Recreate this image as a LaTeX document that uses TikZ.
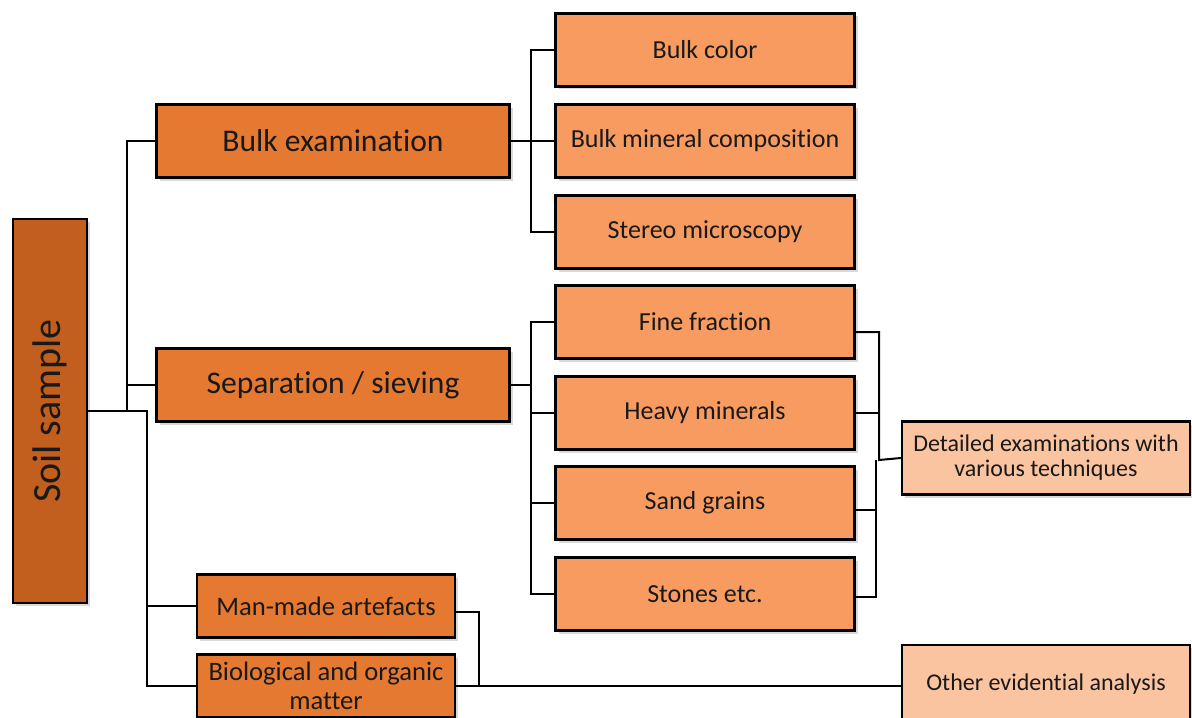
\documentclass[tikz,border=0pt]{standalone}
\usepackage{fontspec}
\setmainfont{Carlito}[Ligatures={NoCommon,NoContextual}, Contextuals=NoAlternate]
\usetikzlibrary{shadows}

\definecolor{soilbrown}{RGB}{194,94,30}
\definecolor{midorange}{RGB}{230,121,50}
\definecolor{lightorange}{RGB}{247,155,96}
\definecolor{paleorange}{RGB}{250,196,160}

\begin{document}
\begin{tikzpicture}[x=0.5pt,y=-0.5pt]
	\tikzstyle{box} = [draw=black, line width=1.2pt, inner sep=2pt, align=center, text=black!90,
		drop shadow={opacity=0.3, shadow xshift=1.5pt, shadow yshift=-1.5pt}]
	\tikzstyle{root} = [box, fill=soilbrown, minimum width=37pt, minimum height=192pt, font=\fontsize{20}{24}\selectfont]
	\tikzstyle{main} = [box, fill=midorange, minimum width=176.5pt, minimum height=36.5pt, font=\fontsize{15.8}{19}\selectfont]
	\tikzstyle{minor} = [box, fill=midorange, minimum width=129pt, minimum height=31.5pt, font=\fontsize{13.3}{14.5}\selectfont]
	\tikzstyle{sub} = [box, fill=lightorange, minimum width=149.5pt, minimum height=36.5pt, font=\fontsize{13}{15}\selectfont]
	\tikzstyle{result} = [box, fill=paleorange, minimum width=144pt, minimum height=36.5pt, font=\fontsize{12}{12.5}\selectfont]
	\tikzstyle{link} = [line width=1pt]

	\useasboundingbox (0,0) rectangle (1192,717);

	\node[root] (soil) at (50,411) {\rotatebox{90}{Soil sample}};

	\node[main] (bulk) at (333,141) {Bulk examination};
	\node[main] (sep) at (333,385) {Separation / sieving};
	\node[minor] (man) at (326,606) {Man-made artefacts};
	\node[minor] (bio) at (326,686) {Biological and organic\\matter};

	\node[sub] (bcol) at (705,50) {Bulk color};
	\node[sub] (bmin) at (705,141) {Bulk mineral composition};
	\node[sub] (ster) at (705,232) {Stereo microscopy};

	\node[sub] (fine) at (705,322) {Fine fraction};
	\node[sub] (heavy) at (705,413) {Heavy minerals};
	\node[sub] (sand) at (705,503) {Sand grains};
	\node[sub] (stone) at (705,594) {Stones etc.};

	\node[result] (detail) at (1046,458) {Detailed examinations with\\various techniques};
	\node[result, minimum height=39pt] (other) at (1046,684) {Other evidential analysis};

	% tree on the left
	\coordinate (j1) at (127,411);
	\coordinate (j2) at (147,411);
	\draw[link] (soil.east) -- (j1) |- (bulk.west);
	\draw[link] (j1) |- (sep.west);
	\draw[link] (j1) -- (j2) |- (man.west);
	\draw[link] (j2) |- (bio.west);

	\coordinate (j3) at (531,141);
	\draw[link] (bulk.east) -- (j3);
	\foreach \n in {bcol,bmin,ster}
		\draw[link] (j3) |- (\n.west);

	\coordinate (j4) at (531,385);
	\draw[link] (sep.east) -- (j4);
	\foreach \n in {fine,heavy,sand,stone}
		\draw[link] (j4) |- (\n.west);

	% towards the right
	\coordinate (j5) at (879,460);
	\coordinate (j6) at (876,460);
	\draw[link] ([yshift=-5pt]fine.east) -| (j5) -- (detail.west);
	\draw[link] (heavy.east) -| (j5);
	\draw[link] ([yshift=-3.5pt]sand.east) -| (j6);
	\draw[link] ([yshift=-1.5pt]stone.east) -| (j6);

	\coordinate (j7) at (479,686);
	\draw[link] ([yshift=-3pt]man.east) -| (j7);
	\draw[link] (bio.east) -- (bio.east -| other.west);

\end{tikzpicture}
\end{document}
